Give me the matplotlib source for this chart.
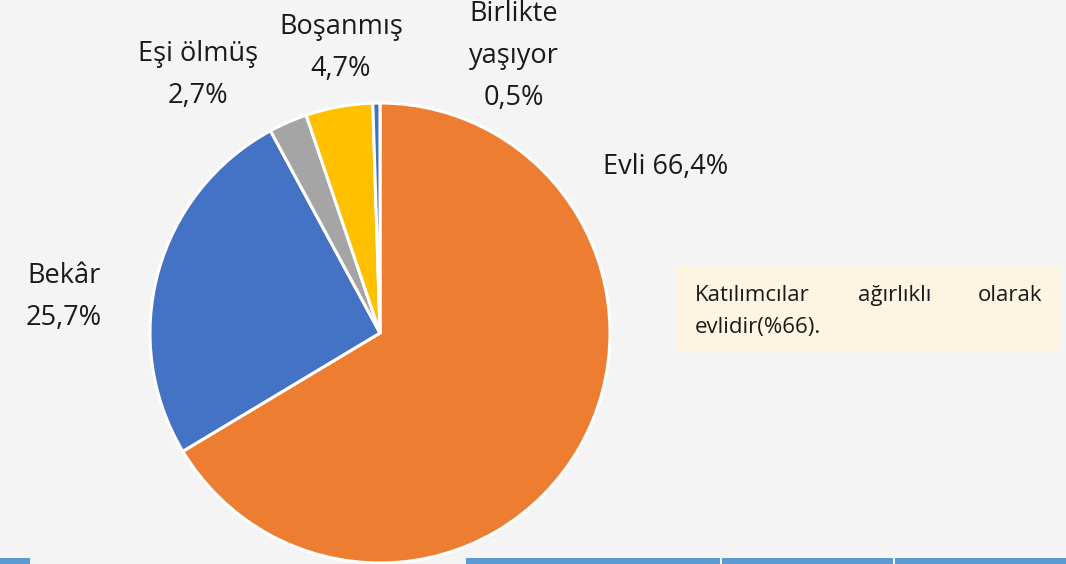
import matplotlib.pyplot as plt
from matplotlib.patches import Rectangle

# data
labels = ["Evli", "Bekâr", "Eşi ölmüş", "Boşanmış", "Birlikte\nyaşıyor"]
values = [66.4, 25.7, 2.7, 4.7, 0.5]
colors = ["#ed7d31", "#4472c4", "#a5a5a5", "#ffc000", "#4472c4"]

W, H = 1066, 564
plt.rcParams['font.family'] = ['Open Sans', 'DejaVu Sans']

fig = plt.figure(figsize=(W / 100, H / 100), dpi=100)
fig.patch.set_facecolor("#f4f4f4")
ax = fig.add_axes([0, 0, 1, 1])
ax.set_facecolor("#f4f4f4")

# pie in pixel coords (y up)
cx, cy, r = 380, H - 333, 230
ax.pie(values, colors=colors, startangle=90, counterclock=False,
       center=(cx, cy), radius=r,
       wedgeprops=dict(edgecolor="white", linewidth=2.2))
ax.set_xlim(0, W)
ax.set_ylim(0, H)
ax.set_aspect('auto')
ax.axis('off')

def pct(v):
    return ("%.1f%%" % v).replace(".", ",")

# label positions (pixel, from top)
pos = [(666, 167), (64, 297), (198, 75), (341, 48), (514, 56)]
fs = 19.5
for lab, v, (x, y) in zip(labels, values, pos):
    if lab == "Evli":
        txt = lab + " " + pct(v)
    else:
        txt = lab + "\n" + pct(v)
    ax.text(x, H - y, txt, ha="center", va="center", fontsize=fs,
            color="#1a1a1a", linespacing=1.65)

# note box
ax.add_patch(Rectangle((676, H - 351), 384, 85, facecolor="#fdf4e1",
                       edgecolor="none"))
nfs = 16
ax.text(695, H - 301, "Katılımcılar", ha="left", va="baseline", fontsize=nfs, color="#1a1a1a")
ax.text(895, H - 301, "ağırlıklı", ha="center", va="baseline", fontsize=nfs, color="#1a1a1a")
ax.text(1042, H - 301, "olarak", ha="right", va="baseline", fontsize=nfs, color="#1a1a1a")
ax.text(695, H - 333, "evlidir(%66).", ha="left", va="baseline", fontsize=nfs, color="#1a1a1a")

# bottom bars
for x0, x1 in [(0, 30), (466, 720), (722, 893), (895, 1066)]:
    ax.add_patch(Rectangle((x0, 0), x1 - x0, 6, facecolor="#5b9bd5",
                           edgecolor="none"))

fig.savefig("out.png", dpi=100, facecolor=fig.get_facecolor())
